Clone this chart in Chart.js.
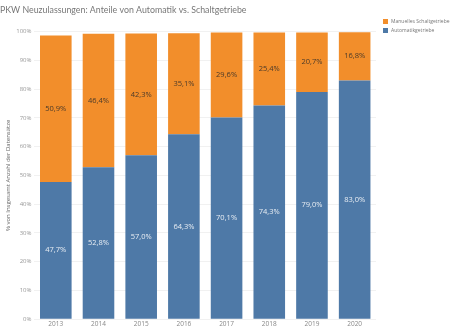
<!DOCTYPE html>
<html>
<head>
<meta charset="utf-8">
<script src="https://cdn.jsdelivr.net/npm/chart.js@4.4.1/dist/chart.umd.min.js"></script>
<style>
    body { margin: 0; background: #fff; }
    #wrap { width: 450px; height: 330px; }
</style>
</head>
<body>
<div id="wrap"><canvas id="gearChart"></canvas></div>
<script>
const years = ['2013', '2014', '2015', '2016', '2017', '2018', '2019', '2020'];
const automatik = [47.7, 52.8, 57.0, 64.3, 70.1, 74.3, 79.0, 83.0];
const manuell = [50.9, 46.4, 42.3, 35.1, 29.6, 25.4, 20.7, 16.8];
const yTicks = [0, 10, 20, 30, 40, 50, 60, 70, 80, 90, 100];

const FONT = '"Open Sans", "DejaVu Sans", sans-serif';

function formatPct(v) {
    return v.toFixed(1).replace('.', ',') + '%';
}

// writes the share in the middle of every bar segment
const segmentLabels = {
    id: 'segmentLabels',
    afterDatasetsDraw(chart) {
        const ctx = chart.ctx;
        ctx.save();
        ctx.font = '7.5px ' + FONT;
        ctx.textAlign = 'center';
        ctx.textBaseline = 'middle';
        chart.data.datasets.forEach((ds, i) => {
            const meta = chart.getDatasetMeta(i);
            meta.data.forEach((bar, j) => {
                const mid = (bar.y + bar.base) / 2;
                ctx.fillStyle = ds.labelColor;
                ctx.fillText(formatPct(ds.data[j]), bar.x, mid);
            });
        });
        ctx.restore();
    }
};

// small legend in the free space right of the plot, top entry = top segment
const sideLegend = {
    id: 'sideLegend',
    afterDraw(chart) {
        const ctx = chart.ctx;
        const x = chart.chartArea.right + 7;
        let y = 19;
        ctx.save();
        ctx.font = '5px ' + FONT;
        ctx.textBaseline = 'middle';
        chart.data.datasets.slice().reverse().forEach(ds => {
            ctx.fillStyle = ds.backgroundColor;
            ctx.fillRect(x, y, 5, 5);
            ctx.fillStyle = '#777';
            ctx.fillText(ds.label, x + 8, y + 2.5);
            y += 9;
        });
        ctx.restore();
    }
};

new Chart(document.getElementById('gearChart'), {
    type: 'bar',
    data: {
        labels: years,
        datasets: [
            {
                label: 'Automatikgetriebe',
                data: automatik,
                backgroundColor: '#4e79a7',
                labelColor: '#e8edf3'
            },
            {
                label: 'Manuelles Schaltgetriebe',
                data: manuell,
                backgroundColor: '#f28e2b',
                labelColor: '#4a3a2a'
            }
        ]
    },
    options: {
        responsive: true,
        maintainAspectRatio: false,
        animation: false,
        layout: { padding: { left: 0, right: 74, top: 0, bottom: 1 } },
        datasets: {
            bar: { categoryPercentage: 1.0, barPercentage: 0.74 }
        },
        plugins: {
            title: {
                display: true,
                text: 'PKW Neuzulassungen: Anteile von Automatik vs. Schaltgetriebe',
                align: 'start',
                color: '#777',
                font: { family: 'Lato, ' + FONT, size: 8.8, weight: 'normal' },
                padding: { top: 5, bottom: 16 }
            },
            legend: { display: false },
            tooltip: { enabled: false }
        },
        scales: {
            x: {
                stacked: true,
                grid: { display: false, drawTicks: false },
                border: { display: false },
                ticks: { color: '#888', font: { family: FONT, size: 6.5 }, padding: 1 }
            },
            y: {
                stacked: true,
                min: 0,
                max: 100,
                afterBuildTicks: axis => { axis.ticks = yTicks.map(v => ({ value: v })); },
                grid: { color: '#f1f1f1', drawTicks: false },
                border: { display: false },
                title: {
                    display: true,
                    text: '% von Insgesamt Anzahl der Datensätze',
                    color: '#666',
                    font: { family: FONT, size: 6 },
                    padding: { top: 5, bottom: 1 }
                },
                ticks: {
                    color: '#999',
                    font: { family: FONT, size: 6 },
                    padding: 3,
                    callback: v => v + '%'
                }
            }
        }
    },
    plugins: [segmentLabels, sideLegend]
});
</script>
</body>
</html>
